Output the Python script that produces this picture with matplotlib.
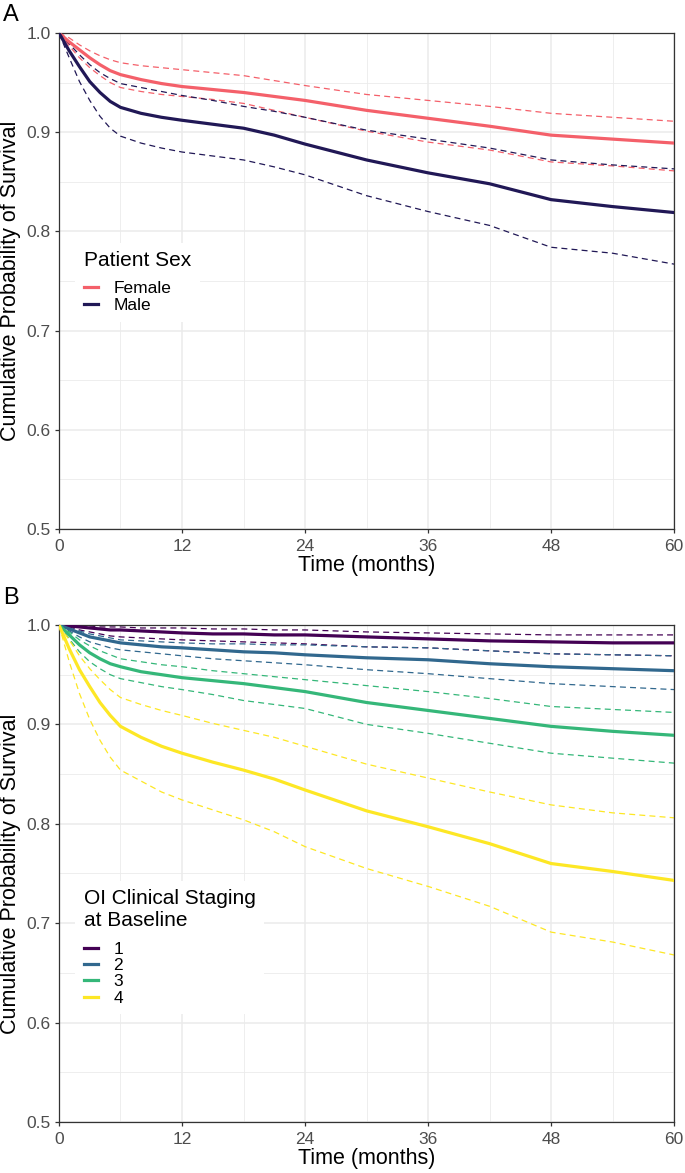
import matplotlib
matplotlib.use("Agg")
import matplotlib.pyplot as plt
from matplotlib.ticker import MultipleLocator
from matplotlib.lines import Line2D

plt.rcParams['font.family'] = ['Liberation Sans', 'DejaVu Sans']
plt.rcParams['lines.scale_dashes'] = False

# time points (months)
months = [0, 1, 2, 3, 4, 5, 6, 8, 10, 12, 15, 18, 21, 24, 30, 36, 42, 48, 54, 60]

# Panel A - patient sex (estimate, lower CI, upper CI)
female_est = [1.0, 0.991, 0.983, 0.975, 0.968, 0.962, 0.958, 0.953, 0.949, 0.946, 0.943, 0.940, 0.936, 0.932, 0.922, 0.914, 0.906, 0.897, 0.893, 0.889]
female_hi = [1.0, 0.995, 0.988, 0.982, 0.977, 0.973, 0.970, 0.967, 0.965, 0.963, 0.960, 0.957, 0.952, 0.947, 0.938, 0.932, 0.926, 0.919, 0.915, 0.911]
female_lo = [1.0, 0.987, 0.975, 0.965, 0.957, 0.950, 0.945, 0.941, 0.938, 0.936, 0.933, 0.929, 0.922, 0.915, 0.901, 0.890, 0.882, 0.870, 0.866, 0.861]
male_est = [1.0, 0.982, 0.966, 0.951, 0.940, 0.931, 0.925, 0.919, 0.915, 0.912, 0.908, 0.904, 0.897, 0.888, 0.872, 0.859, 0.848, 0.832, 0.825, 0.819]
male_hi = [1.0, 0.989, 0.978, 0.968, 0.960, 0.954, 0.949, 0.945, 0.941, 0.937, 0.932, 0.926, 0.921, 0.915, 0.902, 0.893, 0.884, 0.872, 0.867, 0.863]
male_lo = [1.0, 0.975, 0.951, 0.932, 0.916, 0.904, 0.896, 0.889, 0.884, 0.880, 0.876, 0.872, 0.865, 0.857, 0.836, 0.820, 0.806, 0.784, 0.778, 0.767]

# Panel B - OI clinical staging at baseline
stage1_est = [1.0, 0.999, 0.998, 0.997, 0.996, 0.995, 0.995, 0.994, 0.993, 0.992, 0.991, 0.991, 0.990, 0.990, 0.988, 0.986, 0.984, 0.983, 0.982, 0.982]
stage1_hi = [1.0, 1.0, 0.999, 0.999, 0.998, 0.998, 0.998, 0.997, 0.997, 0.997, 0.996, 0.996, 0.995, 0.995, 0.993, 0.992, 0.991, 0.990, 0.990, 0.990]
stage1_lo = [1.0, 0.998, 0.995, 0.993, 0.991, 0.989, 0.988, 0.987, 0.986, 0.985, 0.984, 0.983, 0.982, 0.981, 0.978, 0.977, 0.974, 0.971, 0.970, 0.969]
stage2_est = [1.0, 0.996, 0.992, 0.988, 0.986, 0.984, 0.982, 0.980, 0.978, 0.977, 0.975, 0.973, 0.972, 0.970, 0.967, 0.965, 0.961, 0.958, 0.956, 0.954]
stage2_hi = [1.0, 0.997, 0.994, 0.991, 0.989, 0.987, 0.985, 0.984, 0.983, 0.982, 0.981, 0.981, 0.980, 0.980, 0.978, 0.977, 0.974, 0.971, 0.970, 0.969]
stage2_lo = [1.0, 0.994, 0.988, 0.983, 0.980, 0.977, 0.975, 0.973, 0.971, 0.969, 0.966, 0.964, 0.962, 0.960, 0.955, 0.951, 0.946, 0.941, 0.938, 0.935]
stage3_est = [1.0, 0.990, 0.980, 0.972, 0.966, 0.961, 0.958, 0.953, 0.950, 0.947, 0.944, 0.941, 0.937, 0.933, 0.922, 0.914, 0.906, 0.898, 0.893, 0.889]
stage3_hi = [1.0, 0.993, 0.985, 0.979, 0.974, 0.970, 0.966, 0.963, 0.960, 0.958, 0.954, 0.951, 0.948, 0.945, 0.939, 0.933, 0.926, 0.918, 0.915, 0.912]
stage3_lo = [1.0, 0.986, 0.973, 0.963, 0.956, 0.950, 0.946, 0.942, 0.938, 0.935, 0.930, 0.924, 0.920, 0.916, 0.900, 0.891, 0.881, 0.871, 0.866, 0.861]
stage4_est = [1.0, 0.976, 0.955, 0.938, 0.922, 0.909, 0.898, 0.887, 0.878, 0.871, 0.862, 0.854, 0.845, 0.834, 0.813, 0.797, 0.780, 0.760, 0.752, 0.743]
stage4_hi = [1.0, 0.985, 0.969, 0.956, 0.945, 0.935, 0.927, 0.920, 0.914, 0.909, 0.901, 0.894, 0.887, 0.878, 0.860, 0.846, 0.832, 0.819, 0.811, 0.806]
stage4_lo = [1.0, 0.963, 0.931, 0.905, 0.884, 0.867, 0.854, 0.843, 0.832, 0.824, 0.814, 0.804, 0.792, 0.777, 0.755, 0.737, 0.717, 0.691, 0.681, 0.668]

sex_labels = ['Female', 'Male']
sex_colors = ['#F4606A', '#211856']
stage_labels = ['1', '2', '3', '4']
stage_colors = ['#440154', '#31688E', '#35B779', '#FDE725']

x_ticks = [0, 12, 24, 36, 48, 60]


def style_axis(ax):
    ax.set_xlim(0, 60)
    ax.set_ylim(0.5, 1.0)
    ax.set_xticks(x_ticks)
    ax.xaxis.set_minor_locator(MultipleLocator(6))
    ax.yaxis.set_major_locator(MultipleLocator(0.1))
    ax.yaxis.set_minor_locator(MultipleLocator(0.05))
    ax.grid(which='major', color='#EBEBEB', lw=1.1)
    ax.grid(which='minor', color='#EBEBEB', lw=0.6)
    ax.set_axisbelow(True)
    for s in ax.spines.values():
        s.set_color('#333333')
        s.set_linewidth(0.9)
    ax.tick_params(which='major', length=3, width=0.9, color='#333333',
                   labelsize=12.5, labelcolor='#4D4D4D', pad=3)
    ax.tick_params(axis='x', which='major', pad=4)
    ax.tick_params(which='minor', length=0)
    ax.set_xlabel('Time (months)', fontsize=15.5, labelpad=1)
    ax.set_ylabel('Cumulative Probability of Survival', fontsize=15.5, labelpad=4)


def draw(ax, groups, colors, labels, title, anchor):
    for (est, lo, hi), c in zip(groups, colors):
        ax.plot(months, hi, color=c, lw=0.9, dashes=(4.3, 3), zorder=2)
        ax.plot(months, lo, color=c, lw=0.9, dashes=(4.3, 3), zorder=2)
        ax.plot(months, est, color=c, lw=2.3, zorder=3)
    handles = [Line2D([], [], color=c, lw=2.3) for c in colors]
    leg = ax.legend(handles, labels, title=title, loc='upper left',
                    bbox_to_anchor=anchor, frameon=True, fontsize=12.5,
                    title_fontsize=15, handlelength=0.85, handletextpad=0.85,
                    labelspacing=0.07, alignment='left', borderpad=0.5)
    leg._legend_box.sep = 8
    leg.get_frame().set_facecolor('white')
    leg.get_frame().set_edgecolor('none')
    leg.get_frame().set_alpha(1)


fig = plt.figure(figsize=(6.85, 11.73), dpi=100)
axA = fig.add_axes([0.0861, 0.549, 0.898, 0.4229])
axB = fig.add_axes([0.0861, 0.0435, 0.898, 0.4237])

style_axis(axA)
draw(axA, [(female_est, female_lo, female_hi), (male_est, male_lo, male_hi)],
     sex_colors, sex_labels, 'Patient Sex', (0.012, 0.595))

style_axis(axB)
draw(axB, [(stage1_est, stage1_lo, stage1_hi), (stage2_est, stage2_lo, stage2_hi),
           (stage3_est, stage3_lo, stage3_hi), (stage4_est, stage4_lo, stage4_hi)],
     stage_colors, stage_labels, 'OI Clinical Staging\nat Baseline', (0.012, 0.503))

fig.text(0.004, 0.997, 'A', fontsize=17, va='top', ha='left')
fig.text(0.004, 0.4995, 'B', fontsize=17, va='top', ha='left')

fig.savefig('out.png', dpi=100)
